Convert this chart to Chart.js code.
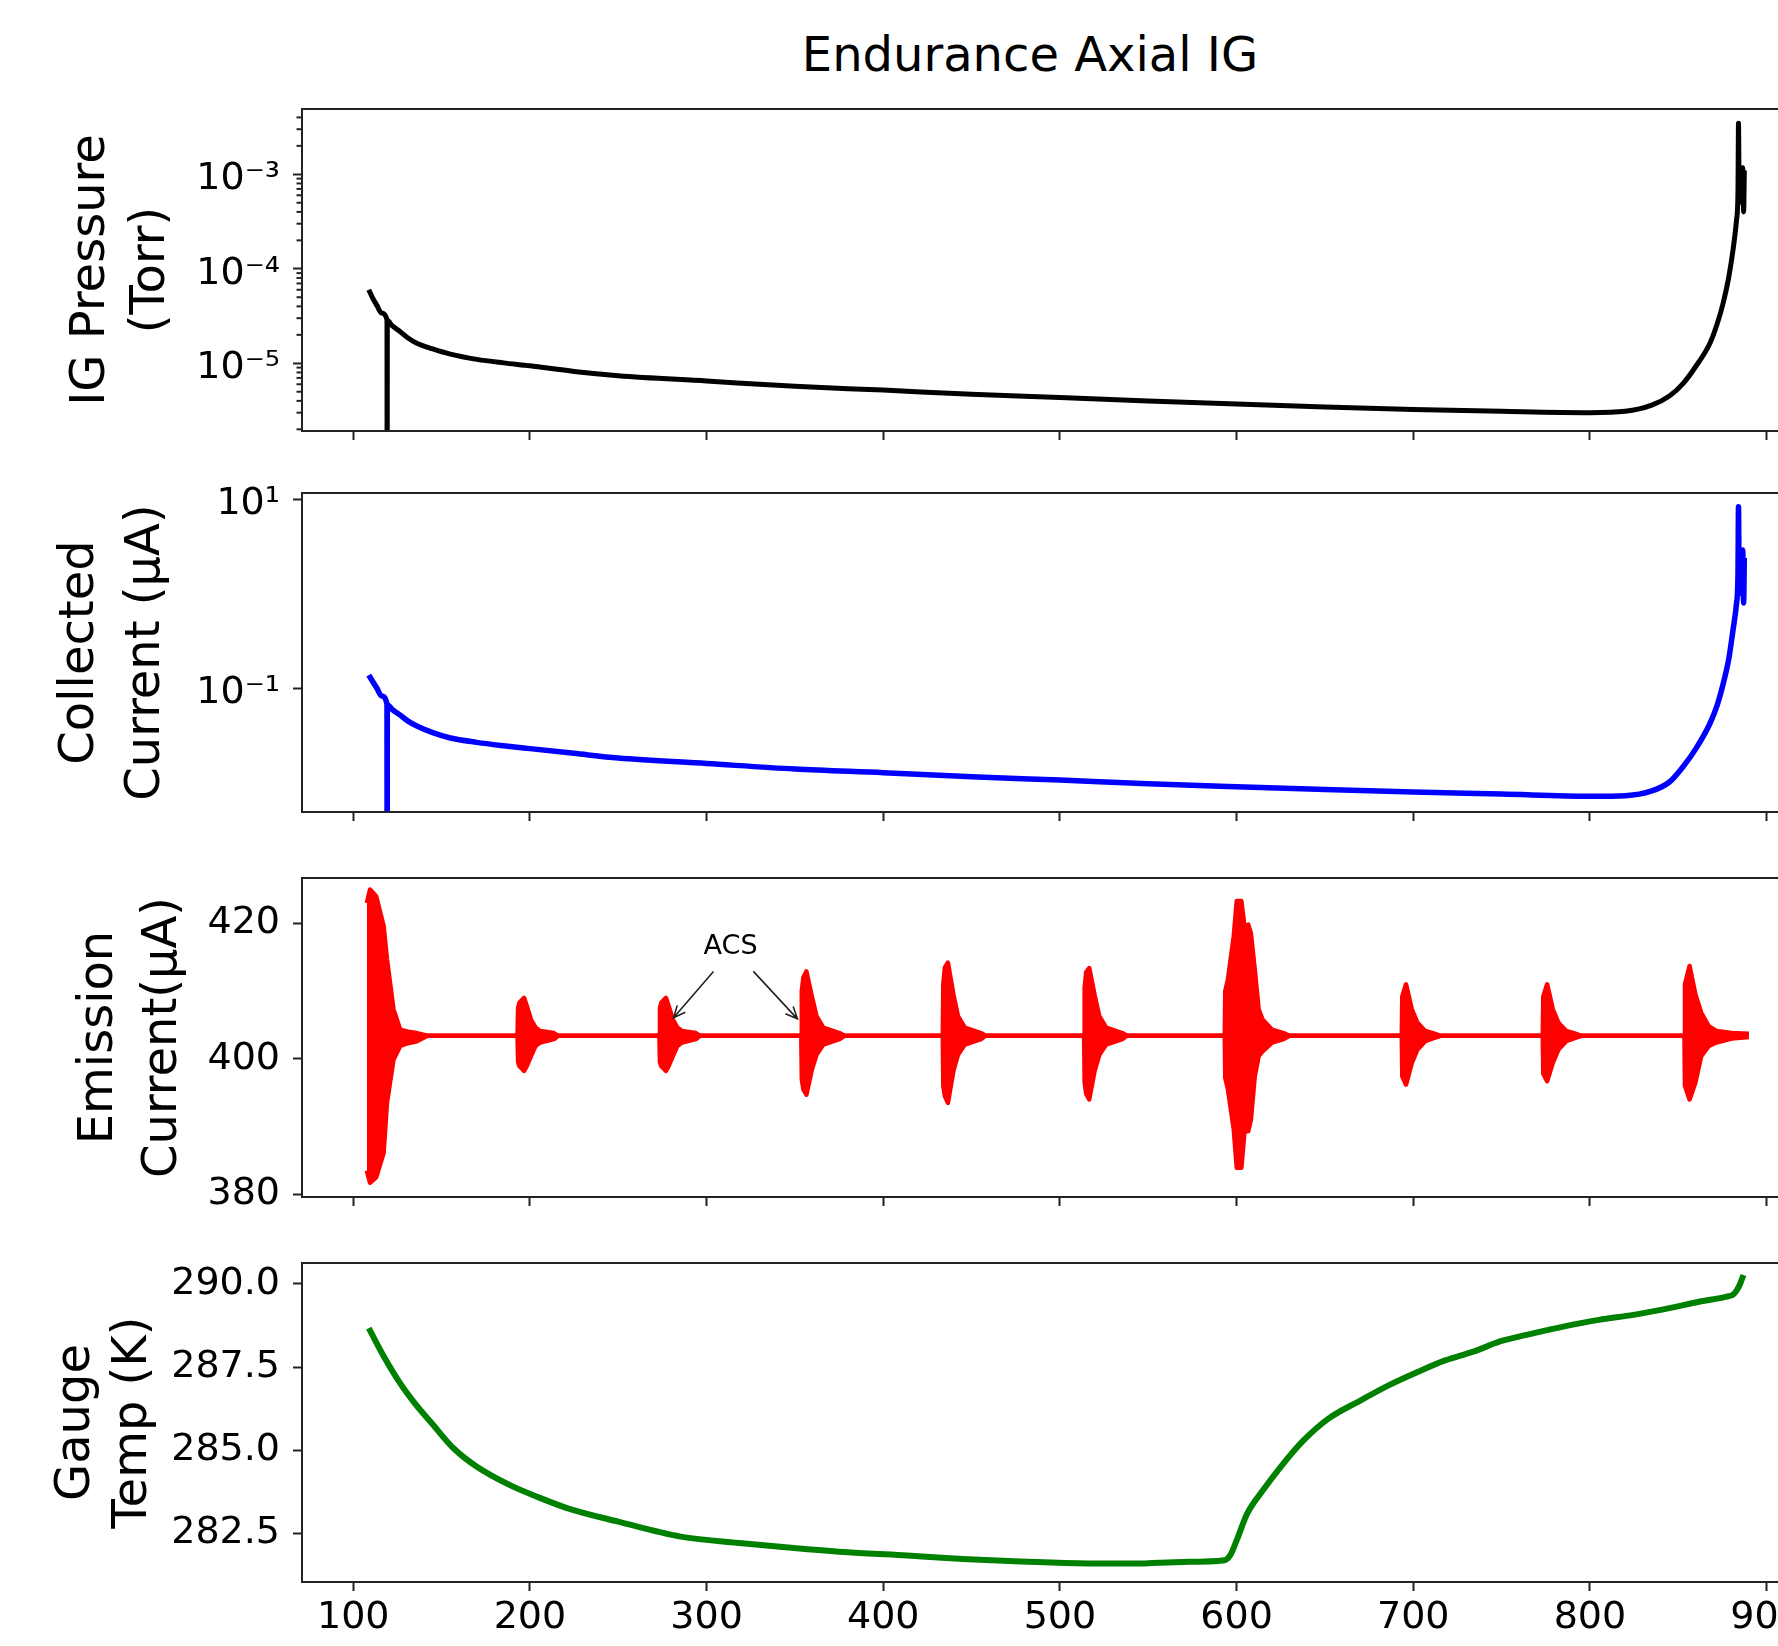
<!DOCTYPE html>
<html>
<head>
<meta charset="utf-8">
<title>Endurance Axial IG</title>
<script src="https://cdn.jsdelivr.net/npm/chart.js@4.4.1/dist/chart.umd.min.js"></script>
<style>
  html, body { margin:0; padding:0; background:#fff; overflow:hidden; }
  body { width:1778px; height:1646px; position:relative; }
  canvas { position:absolute; left:0; }
  #title { position:absolute; left:0; top:25px; width:2060px; text-align:center; color:#000;
    font-family:"DejaVu Sans", sans-serif; font-size:48px; line-height:58px; white-space:nowrap; }
</style>
</head>
<body>
<div id="title"></div>
<canvas id="c1"></canvas>
<canvas id="c2"></canvas>
<canvas id="c3"></canvas>
<canvas id="c4"></canvas>
<script>
/* ===== DATA ===== */
const chartTitle = 'Endurance Axial IG';
const xTicks = [100, 200, 300, 400, 500, 600, 700, 800, 900];
const xTickLabels = ['100', '200', '300', '400', '500', '600', '700', '800', '900'];

// shared time base for the ion gauge pressure / collected current traces
const igTime = [108.8, 111, 113.4, 116, 119.1, 119.2, 119.3, 122, 126.6, 131, 136, 145, 155, 170, 185, 200, 225, 250,
  300, 350, 400, 450, 500, 550, 600, 650, 700, 750, 800, 820, 835, 845, 852.7, 860, 868, 872, 875.5, 878.5,
  881, 883, 883.8, 884.1, 884.5, 885.5, 886.5, 887, 887.4];
const igPressure = [6.0e-5, 4.9e-5, 4.1e-5, 3.4e-5, 2.9e-5, 1e-7, 2.85e-5, 2.5e-5, 2.16e-5, 1.85e-5, 1.63e-5, 1.42e-5,
  1.25e-5, 1.1e-5, 1.01e-5, 9.4e-6, 8.2e-6, 7.4e-6, 6.5e-6, 5.7e-6, 5.2e-6, 4.7e-6, 4.35e-6, 4.0e-6, 3.7e-6,
  3.45e-6, 3.25e-6, 3.1e-6, 3.0e-6, 3.1e-6, 3.6e-6, 4.5e-6, 6.1e-6, 9.3e-6, 1.64e-5, 2.6e-5, 4.4e-5, 8.0e-5,
  1.58e-4, 3.3e-4, 6.5e-4, 3.46e-3, 5e-4, 8e-4, 1.17e-3, 4e-4, 1.1e-3];
const collectedCurrent = [0.138, 0.118, 0.1, 0.083, 0.068, 1e-4, 0.067, 0.06, 0.052, 0.045, 0.04, 0.034, 0.0298,
  0.0268, 0.0247, 0.023, 0.0205, 0.0183, 0.016, 0.014, 0.0128, 0.0116, 0.0107, 0.0098, 0.0091, 0.0085, 0.008,
  0.0076, 0.0072, 0.0073, 0.0082, 0.0102, 0.0148, 0.023, 0.0427, 0.066, 0.113, 0.2, 0.414, 0.8, 1.6, 8.36,
  1.0, 1.8, 2.9, 0.8, 2.4];

// emission current: upper / lower envelope of the oscillation bursts
const emTime = [
  107.7, 109.5, 113, 117.2, 119.1, 122.8, 126.6, 131, 136, 142,
  193.0, 193.3, 194.1, 196.7, 198, 200.6, 203.2, 205.8, 213.6, 216,
  273.3, 273.6, 274.4, 277.0, 278.3, 280.9, 283.5, 286.1, 293.9, 296.3,
  353.6, 353.9, 354.8, 356.5, 359.6, 362.2, 366.1, 375.2, 378,
  433.7, 434, 434.9, 436.6, 439.7, 442.3, 446.2, 455.3, 458,
  513.7, 514.0, 514.9, 516.6, 519.7, 522.3, 526.2, 535.3, 538,
  593.3, 593.6, 595.1, 598.4, 600.1, 602.7, 604.5, 606.6, 608.1, 610.3, 612.5, 614.7, 620.1, 626.6, 630,
  693.5, 693.8, 695.9, 699.2, 702.4, 706.8, 711.1, 715.5,
  773.3, 773.6, 775.8, 779.0, 782.2, 786.6, 790.9, 795.3,
  853.5, 853.8, 856.4, 859.7, 863.0, 867.3, 871.6, 880.3, 890
];
const emHigh = [
  423, 425, 424, 419.6, 414.7, 407.3, 404.3, 404.0, 403.8, 403.4,
  403.4, 407.5, 408.3, 409.0, 408.0, 405.8, 404.6, 404.1, 403.8, 403.4,
  403.4, 407.5, 408.3, 409.0, 408.0, 405.8, 404.6, 404.1, 403.8, 403.4,
  403.4, 410, 412, 412.9, 409.2, 406.3, 404.6, 403.8, 403.4,
  403.4, 411, 413.5, 414.2, 409.5, 406.3, 404.6, 403.8, 403.4,
  403.4, 410.5, 412.8, 413.4, 409.3, 406.3, 404.6, 403.8, 403.4,
  403.4, 410.0, 411.7, 418.1, 423.3, 423.3, 419.5, 419.8, 418.5, 413.2, 407.3, 405.8, 404.3, 403.8, 403.4,
  403.4, 409.2, 411.0, 407.3, 405.3, 404.1, 403.8, 403.4,
  403.4, 409.2, 411.0, 407.3, 405.3, 404.1, 403.8, 403.4,
  403.4, 411, 413.7, 409.5, 406.8, 404.8, 404.1, 403.8, 403.7
];
const emLow = [
  383.5, 381.7, 382.5, 386.1, 393.5, 399.9, 401.9, 402.3, 402.6, 403.4,
  403.4, 399.5, 398.9, 398.2, 398.8, 400.4, 401.9, 402.4, 402.9, 403.4,
  403.4, 399.5, 398.9, 398.2, 398.8, 400.4, 401.9, 402.4, 402.9, 403.4,
  403.4, 397, 395.5, 394.7, 398.4, 400.6, 402.1, 402.9, 403.4,
  403.4, 396, 394.5, 393.5, 398.2, 400.6, 402.1, 402.9, 403.4,
  403.4, 396.5, 394.8, 394.0, 398.3, 400.6, 402.1, 402.9, 403.4,
  403.4, 397.2, 395.5, 389.6, 383.9, 383.9, 389.3, 389.3, 391.0, 397.4, 400.4, 401.1, 402.4, 402.9, 403.4,
  403.4, 397.4, 396.2, 399.4, 401.4, 402.6, 403.0, 403.4,
  403.4, 397.8, 396.7, 399.4, 401.4, 402.6, 403.0, 403.4,
  403.4, 396, 394.0, 396.5, 400.4, 401.9, 402.4, 403.0, 403.2
];

const tempTime = [108.8, 117, 126.6, 135, 145.4, 156.9, 170, 189, 205, 221, 250, 285.3, 320, 349.4, 380, 413.6, 445,
  477.8, 510, 542, 570, 593.3, 596.5, 599.7, 606, 615, 625, 638, 652, 670.3, 686, 702.4, 718, 734.4, 749.1,
  766.6, 786.9, 805, 824.6, 843, 862.3, 877.4, 881, 883, 885, 886.9];
const gaugeTemp = [288.67, 287.85, 287.01, 286.4, 285.75, 285.05, 284.5, 283.94, 283.58, 283.26, 282.85, 282.4,
  282.2, 282.06, 281.93, 281.83, 281.73, 281.65, 281.6, 281.59, 281.64, 281.69, 281.85, 282.24, 283.09, 283.8,
  284.5, 285.3, 285.95, 286.5, 286.95, 287.35, 287.7, 287.97, 288.27, 288.5, 288.74, 288.92, 289.07, 289.25,
  289.47, 289.62, 289.68, 289.8, 290.0, 290.27];

const pressureTicks = [1e-5, 1e-4, 1e-3];
const pressureTickLabels = ['10⁻⁵', '10⁻⁴', '10⁻³'];
const pressureMinorTicks = [2e-6, 3e-6, 4e-6, 5e-6, 6e-6, 7e-6, 8e-6, 9e-6, 2e-5, 3e-5, 4e-5, 5e-5, 6e-5, 7e-5, 8e-5, 9e-5,
  2e-4, 3e-4, 4e-4, 5e-4, 6e-4, 7e-4, 8e-4, 9e-4, 2e-3, 3e-3, 4e-3];
const currentTicks = [0.1, 10];
const currentTickLabels = ['10⁻¹', '10¹'];
const emissionTicks = [380, 400, 420];
const emissionTickLabels = ['380', '400', '420'];
const tempTicks = [282.5, 285, 287.5, 290];
const tempTickLabels = ['282.5', '285.0', '287.5', '290.0'];

const acsLabel = 'ACS';
const acsLabelAt = [313.6, 416.5];
const acsArrowFrom = [[303.9, 412.9], [326.5, 412.9]];
const acsArrowTo = [[281.3, 406.05], [351.4, 405.9]];

/* ===== LAYOUT ===== */
Chart.defaults.font.family = '"DejaVu Sans", sans-serif';
Chart.defaults.color = '#000';
Chart.defaults.animation = false;

const W = 2060, PLOT_L = 302, PLOT_R = 1818, PAD_TOP = 40;
const X_MIN = 71.0, X_MAX = 929.1;
const INK = '#222';

document.getElementById('title').textContent = chartTitle;

const pts = (xs, ys) => xs.map((x, i) => ({ x, y: ys[i] }));
const fixedTicks = values => scale => { scale.ticks = values.map(v => ({ value: v })); };

const framePlugin = {
  id: 'frame',
  afterDraw(chart, args, opts) {
    const { ctx, chartArea: a } = chart;
    ctx.save();
    ctx.strokeStyle = INK; ctx.lineWidth = 2;
    ctx.strokeRect(a.left, a.top, a.right - a.left, a.bottom - a.top);
    (opts.minor || []).forEach(v => {
      const py = chart.scales.y.getPixelForValue(v);
      if (py < a.top || py > a.bottom) return;
      ctx.beginPath(); ctx.moveTo(a.left - 5.5, py); ctx.lineTo(a.left, py); ctx.stroke();
    });
    ctx.restore();
  }
};

const acsPlugin = {
  id: 'acs',
  afterDatasetsDraw(chart) {
    const { ctx, scales: { x, y } } = chart;
    ctx.save();
    ctx.font = '27px "DejaVu Sans"'; ctx.fillStyle = '#000';
    ctx.textAlign = 'center'; ctx.textBaseline = 'middle';
    ctx.fillText(acsLabel, x.getPixelForValue(acsLabelAt[0]), y.getPixelForValue(acsLabelAt[1]));
    ctx.strokeStyle = INK; ctx.lineWidth = 1.6;
    acsArrowFrom.forEach((f, i) => {
      const x0 = x.getPixelForValue(f[0]), y0 = y.getPixelForValue(f[1]);
      const x1 = x.getPixelForValue(acsArrowTo[i][0]), y1 = y.getPixelForValue(acsArrowTo[i][1]);
      const ang = Math.atan2(y1 - y0, x1 - x0), h = 13, s = 0.42;
      ctx.beginPath();
      ctx.moveTo(x0, y0); ctx.lineTo(x1, y1);
      ctx.moveTo(x1 - h * Math.cos(ang - s), y1 - h * Math.sin(ang - s));
      ctx.lineTo(x1, y1);
      ctx.lineTo(x1 - h * Math.cos(ang + s), y1 - h * Math.sin(ang + s));
      ctx.stroke();
    });
    ctx.restore();
  }
};

const tickGrid = { display: true, drawOnChartArea: false, drawTicks: true, tickLength: 9, tickWidth: 2, tickColor: INK };

function xAxis(showLabels) {
  return {
    type: 'linear', min: X_MIN, max: X_MAX,
    afterBuildTicks: fixedTicks(xTicks),
    afterFit: s => { s.height = showLabels ? 64 : 30; },
    grid: tickGrid, border: { display: false },
    ticks: { display: showLabels, padding: 4, font: { size: 38 }, color: '#000', maxRotation: 0, autoSkip: false,
      callback: (v, i) => xTickLabels[i] }
  };
}

function yAxis(c) {
  return {
    type: c.type, min: c.min, max: c.max,
    afterBuildTicks: fixedTicks(c.ticks),
    afterFit: s => { s.width = PLOT_L; s.paddingTop = 0; s.paddingBottom = 0; },
    grid: tickGrid, border: { display: false },
    ticks: { padding: 13, labelOffset: c.labelOffset || 0, font: { size: 38 }, color: '#000', autoSkip: false,
      callback: (v, i) => c.labels[i] },
    title: { display: true, text: c.title, color: '#000', font: { size: 48, lineHeight: c.lh },
      padding: { top: c.pad, bottom: 0 } }
  };
}

const line = (data, color, width, smooth) => ({ data, borderColor: color, backgroundColor: color, borderWidth: width,
  pointRadius: 0, tension: 0, cubicInterpolationMode: smooth ? 'monotone' : 'default', clip: 0,
  borderJoinStyle: 'round', fill: false });

function makeChart(id, top, height, cfg) {
  const cv = document.getElementById(id);
  cv.width = W; cv.height = height; cv.style.top = top + 'px';
  return new Chart(cv, {
    type: 'line',
    data: { datasets: cfg.datasets },
    options: {
      responsive: false, animation: false, events: [],
      layout: { padding: { top: cfg.padTop, left: 0, right: W - PLOT_R, bottom: 0 } },
      scales: { x: xAxis(cfg.xLabels), y: yAxis(cfg.y) },
      plugins: {
        legend: { display: false }, tooltip: { enabled: false },
        frame: { minor: cfg.minor || [] }
      }
    },
    plugins: [framePlugin].concat(cfg.extra || [])
  });
}

/* ===== PANELS ===== */
makeChart('c1', 0, 461, {
  padTop: 109,
  datasets: [line(pts(igTime, igPressure), '#000000', 5, true)],
  y: { type: 'logarithmic', min: 1.92e-6, max: 4.91e-3, ticks: pressureTicks, labels: pressureTickLabels,
    labelOffset: 5, title: ['IG Pressure', '(Torr)'], lh: 1.25, pad: 61.7 },
  minor: pressureMinorTicks,
  xLabels: false
});

makeChart('c2', 493 - PAD_TOP, PAD_TOP + 319 + 30, {
  padTop: PAD_TOP,
  datasets: [line(pts(igTime, collectedCurrent), '#0000ff', 5.5, true)],
  y: { type: 'logarithmic', min: 4.91e-3, max: 11.66, ticks: currentTicks, labels: currentTickLabels,
    labelOffset: 5, title: ['Collected', 'Current (μA)'], lh: 1.375, pad: 47.7 },
  xLabels: false
});

makeChart('c3', 878 - PAD_TOP, PAD_TOP + 319 + 30, {
  padTop: PAD_TOP,
  datasets: [
    line(pts(emTime, emHigh), '#ff0000', 4.5, false),
    Object.assign(line(pts(emTime, emLow), '#ff0000', 4.5, false), { fill: '-1' })
  ],
  y: { type: 'linear', min: 379.6, max: 426.69, ticks: emissionTicks, labels: emissionTickLabels,
    title: ['Emission', 'Current(μA)'], lh: 1.32, pad: 68.3 },
  extra: [acsPlugin],
  xLabels: false
});

makeChart('c4', 1263 - PAD_TOP, PAD_TOP + 319 + 64, {
  padTop: PAD_TOP,
  datasets: [line(pts(tempTime, gaugeTemp), '#008000', 6, true)],
  y: { type: 'linear', min: 281.035, max: 290.63, ticks: tempTicks, labels: tempTickLabels,
    title: ['Gauge', 'Temp (K)'], lh: 1.18, pad: 48.3 },
  xLabels: true
});
</script>
</body>
</html>
